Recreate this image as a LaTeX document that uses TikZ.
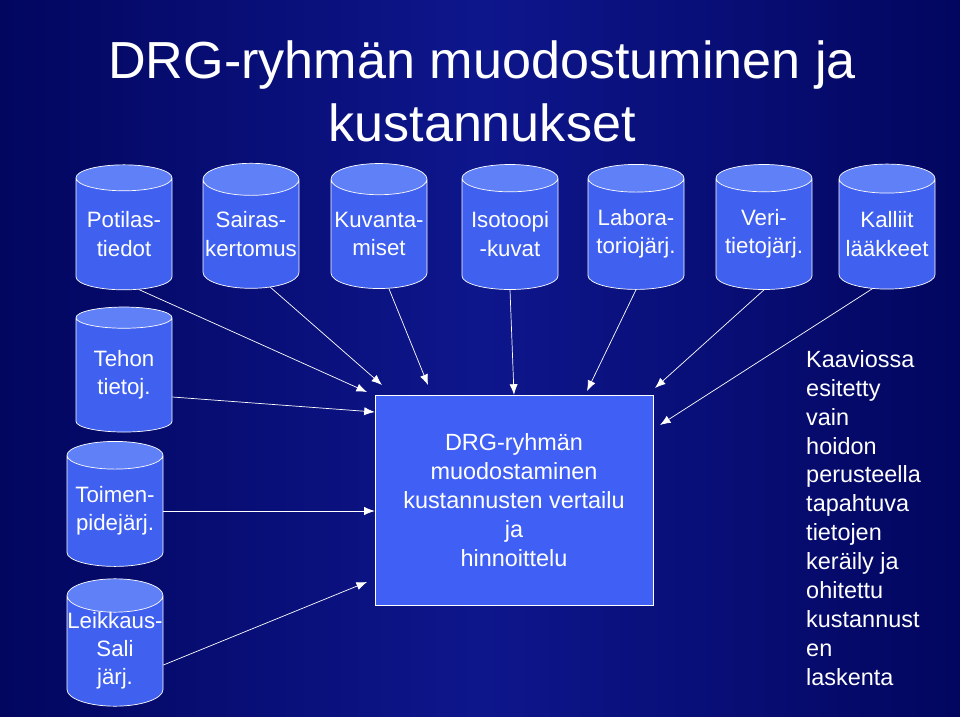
\documentclass[tikz,border=0pt]{standalone}
\usepackage{fontspec}
\setmainfont{Liberation Sans}
\usetikzlibrary{shapes.geometric,arrows.meta}
\definecolor{navy}{RGB}{2,6,95}
\definecolor{drumblue}{RGB}{64,96,240}
\definecolor{drumtop}{RGB}{96,128,248}
\definecolor{boxblue}{RGB}{64,96,245}
\tikzset{
  drum/.style={cylinder, shape border rotate=90, aspect=0.35, draw=white, semithick,
    cylinder uses custom fill, cylinder body fill=drumblue, cylinder end fill=drumtop,
    minimum width=96*0.03cm, minimum height=125*0.03cm, inner sep=0pt,
    text=white, font=\fontsize{19}{24}\selectfont, align=center},
  feed/.style={draw=white, semithick, -{Latex[length=9pt,width=7pt]}}
}
\begin{document}
\begin{tikzpicture}[x=0.03cm,y=-0.03cm]
\shade[left color=navy, right color=navy, middle color={rgb,255:red,14;green,22;blue,140}] (0,0) rectangle (960,716);
\useasboundingbox (0,0) rectangle (960,716);
% otsikko
\node[text=white, font=\fontsize{44.5}{53.6}\selectfont, align=center] (title) at (482,91) {DRG-ryhmän muodostuminen ja\\kustannukset};
% tietokannat
\node[drum] (potilas) at (124,234) {Potilas-\\tiedot};
\node[drum] (sairas) at (251,234) {Sairas-\\kertomus};
\node[drum] (kuva) at (379,234) {Kuvanta-\\miset};
\node[drum] (isotoopi) at (510,234) {Isotoopi\\-kuvat};
\node[drum] (labora) at (636,234) {Labora-\\toriojärj.};
\node[drum] (veri) at (764,234) {Veri-\\tietojärj.};
\node[drum] (kalliit) at (887,234) {Kalliit\\lääkkeet};
\node[drum] (tehon) at (124,375) {Tehon\\tietoj.};
\node[drum] (toimen) at (115,511) {Toimen-\\pidejärj.};
\node[drum] (leikkaus) at (115,651) {Leikkaus-\\Sali\\järj.};
% keskus
\node[draw=white, fill=boxblue, minimum width=278*0.03cm, minimum height=210*0.03cm,
  text=white, font=\fontsize{20}{24.7}\selectfont, align=center] (drg) at (514,500)
  {DRG-ryhmän\\muodostaminen\\kustannusten vertailu\\ja\\hinnoittelu};
\node[anchor=north west, text=white, font=\fontsize{20}{24.7}\selectfont, align=left, inner sep=0pt] (huom) at (806,350)
  {Kaaviossa\\esitetty\\vain\\hoidon\\perusteella\\tapahtuva\\tietojen\\keräily ja\\ohitettu\\kustannust\\en\\laskenta};
% nuolet
\coordinate (c1) at (367,392);
\coordinate (c2) at (382,385);
\coordinate (c3) at (428,385);
\coordinate (c5) at (587,391);
\coordinate (c6) at (655,388);
\coordinate (c7) at (660,425);
\coordinate (c9) at (367,582);
\draw[feed] (potilas.285) -- (c1);
\draw[feed] (sairas.290) -- (c2);
\draw[feed] (kuva.bottom) ++(10,0) -- (c3);
\draw[feed] (isotoopi.bottom) -- (drg.north);
\draw[feed] (labora.bottom) -- (c5);
\draw[feed] (veri.bottom) -- (c6);
\draw[feed] (kalliit.255) -- (c7);
\draw[feed] (tehon.east) ++(0,22) -- (drg.west |- 0,412);
\draw[feed] (toimen.east) -- (drg.west |- toimen.east);
\draw[feed] (leikkaus.east) ++(0,14) -- (c9);
\end{tikzpicture}
\end{document}
